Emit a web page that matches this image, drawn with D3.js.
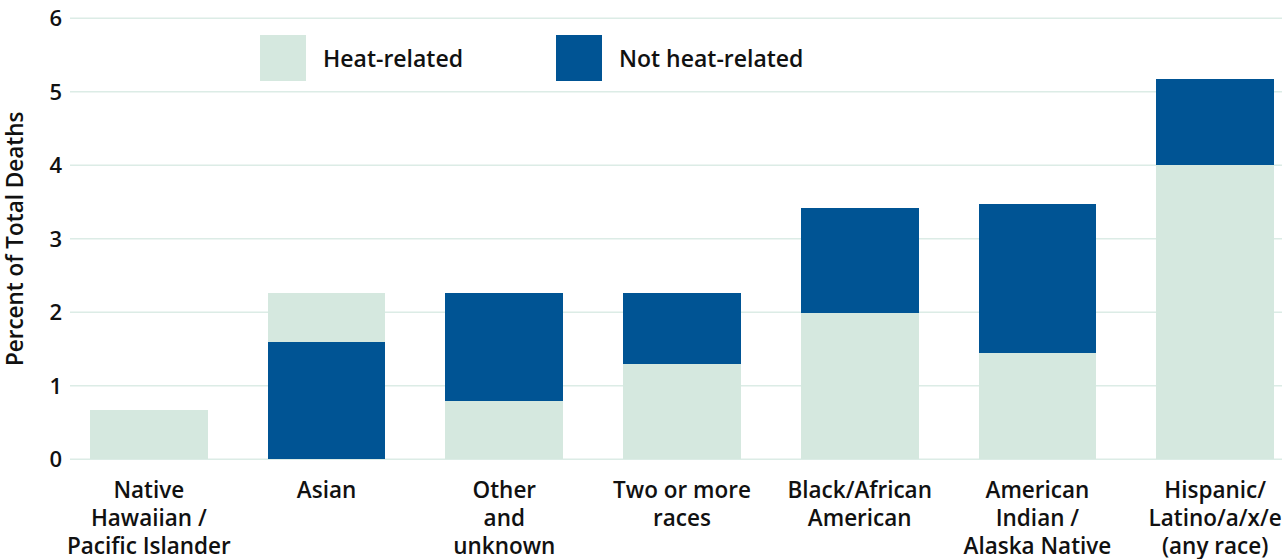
<!DOCTYPE html>
<html>
<head>
<meta charset="utf-8">
<script src="https://cdn.jsdelivr.net/npm/d3@7"></script>
<style>
  html, body { margin: 0; padding: 0; background: #ffffff; }
  svg { display: block; font-family: "Open Sans", "Lato", sans-serif; }
</style>
</head>
<body>
<svg id="chart" width="1282" height="559"></svg>
<script>
// Race / ethnicity groups, each label split into its display lines
const categories = [
  "Native Hawaiian / Pacific Islander",
  "Asian",
  "Other and unknown",
  "Two or more races",
  "Black/African American",
  "American Indian / Alaska Native",
  "Hispanic/ Latino/a/x/e (any race)"
];
const categoryLines = [
  ["Native", "Hawaiian /", "Pacific Islander"],
  ["Asian"],
  ["Other", "and", "unknown"],
  ["Two or more", "races"],
  ["Black/African", "American"],
  ["American", "Indian /", "Alaska Native"],
  ["Hispanic/", "Latino/a/x/e", "(any race)"]
];

// Share of deaths (%) in each group
const heatRelated    = [0.67, 2.26, 0.79, 1.30, 1.99, 1.45, 4.00];
const notHeatRelated = [0.00, 1.60, 2.26, 2.26, 3.42, 3.47, 5.17];

const yTicks = [0, 1, 2, 3, 4, 5, 6];
const seriesNames = ["Heat-related", "Not heat-related"];
const colors = { heat: "#d5e8df", notHeat: "#005494" };

const svg = d3.select("#chart");

const x = d3.scaleBand()
  .domain(categories)
  .range([60, 1304])
  .paddingInner(0.337)
  .paddingOuter(0.1685);

const y = d3.scaleLinear()
  .domain([0, 6])
  .range([459.3, 18.3]);

// Horizontal gridlines
svg.append("g")
  .selectAll("line")
  .data(yTicks)
  .join("line")
  .attr("x1", 70)
  .attr("x2", 1282)
  .attr("y1", d => y(d))
  .attr("y2", d => y(d))
  .attr("stroke", "#dcece6")
  .attr("stroke-width", 1.5);

// Y tick labels
svg.append("g")
  .selectAll("text")
  .data(yTicks)
  .join("text")
  .attr("x", 62)
  .attr("y", d => y(d))
  .attr("dy", "0.36em")
  .attr("text-anchor", "end")
  .attr("font-size", 22)
  .attr("font-weight", 600)
  .attr("fill", "#111")
  .text(d => d);

// Y axis title
svg.append("text")
  .attr("transform", `translate(23, ${(y(0) + y(6)) / 2}) rotate(-90)`)
  .attr("text-anchor", "middle")
  .attr("font-size", 22.5)
  .attr("font-weight", 600)
  .attr("fill", "#111")
  .text("Percent of Total Deaths");

// Overlapping bars: the taller series sits behind, the shorter one in front
const rows = categories.map((c, i) => ({
  cat: c,
  values: [
    { key: "heat", v: heatRelated[i] },
    { key: "notHeat", v: notHeatRelated[i] }
  ].sort((a, b) => b.v - a.v)
}));

const groups = svg.append("g")
  .attr("shape-rendering", "crispEdges")
  .selectAll("g")
  .data(rows)
  .join("g");

groups.selectAll("rect")
  .data(d => d.values.map(s => ({ cat: d.cat, ...s })))
  .join("rect")
  .attr("x", d => x(d.cat))
  .attr("width", x.bandwidth())
  .attr("y", d => y(d.v))
  .attr("height", d => y(0) - y(d.v))
  .attr("fill", d => colors[d.key]);

// Category labels
const labels = svg.append("g")
  .selectAll("text")
  .data(categories)
  .join("text")
  .attr("text-anchor", "middle")
  .attr("font-size", 22.5)
  .attr("font-weight", 600)
  .attr("fill", "#111");

labels.selectAll("tspan")
  .data((d, i) => categoryLines[i].map(line => ({ cat: d, line })))
  .join("tspan")
  .attr("x", d => x(d.cat) + x.bandwidth() / 2)
  .attr("y", (d, j) => 497.5 + j * 28)
  .text(d => d.line);

// Legend
const legendX = [260, 556];
const legend = svg.append("g")
  .selectAll("g")
  .data(seriesNames)
  .join("g")
  .attr("transform", (d, i) => `translate(${legendX[i]}, 35)`);

legend.append("rect")
  .attr("width", 46)
  .attr("height", 46)
  .attr("fill", (d, i) => i === 0 ? colors.heat : colors.notHeat);

legend.append("text")
  .attr("x", 63)
  .attr("y", 31.5)
  .attr("font-size", 23)
  .attr("font-weight", 600)
  .attr("fill", "#111")
  .text(d => d);
</script>
</body>
</html>
